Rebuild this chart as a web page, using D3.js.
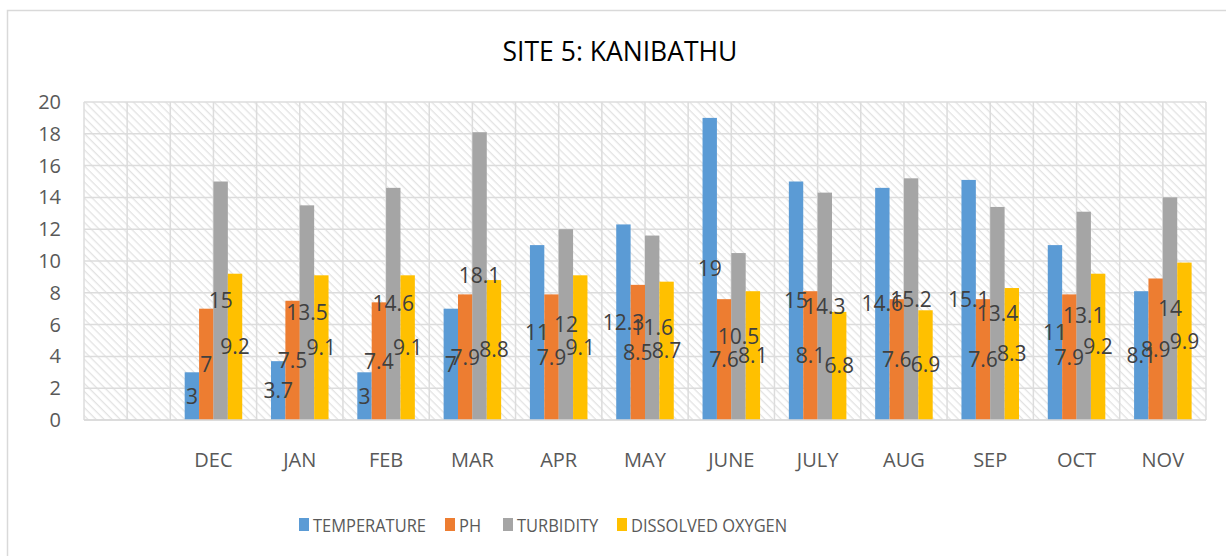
<!DOCTYPE html>
<html>
<head>
<meta charset="utf-8">
<script src="https://cdn.jsdelivr.net/npm/d3@7"></script>
<style>
  html, body { margin: 0; padding: 0; background: #fff; }
  svg { display: block; font-family: 'Open Sans', 'Liberation Sans', sans-serif; }
</style>
</head>
<body>
<div id="chart"></div>
<script>
// chart data
const months = ['DEC', 'JAN', 'FEB', 'MAR', 'APR', 'MAY', 'JUNE', 'JULY', 'AUG', 'SEP', 'OCT', 'NOV'];
const seriesNames = ['TEMPERATURE', 'PH', 'TURBIDITY', 'DISSOLVED OXYGEN'];
const temperature = [3, 3.7, 3, 7, 11, 12.3, 19, 15, 14.6, 15.1, 11, 8.1];
const ph = [7, 7.5, 7.4, 7.9, 7.9, 8.5, 7.6, 8.1, 7.6, 7.6, 7.9, 8.9];
const turbidity = [15, 13.5, 14.6, 18.1, 12, 11.6, 10.5, 14.3, 15.2, 13.4, 13.1, 14];
const dissolvedOxygen = [9.2, 9.1, 9.1, 8.8, 9.1, 8.7, 8.1, 6.8, 6.9, 8.3, 9.2, 9.9];
const yTicks = [0, 2, 4, 6, 8, 10, 12, 14, 16, 18, 20];

const W = 1226;
const H = 556;
const colors = ['#5B9BD5', '#ED7D31', '#A5A5A5', '#FFC000'];
const plot = { left: 84, right: 1206, top: 102, bottom: 420 };

// the reference has an empty slot before DEC
const categories = [''].concat(months);
const seriesValues = [temperature, ph, turbidity, dissolvedOxygen];

const rows = [];
months.forEach((m, i) => {
  seriesNames.forEach((s, j) => {
    rows.push({ month: m, series: s, value: seriesValues[j][i], color: colors[j] });
  });
});

const svg = d3.select('#chart')
  .append('svg')
  .attr('width', W)
  .attr('height', H);

svg.append('rect')
  .attr('width', W).attr('height', H)
  .attr('fill', '#fff');

// chart frame (only left/top visible in the crop)
svg.append('rect')
  .attr('x', 7.5).attr('y', 10.5)
  .attr('width', W + 20).attr('height', H + 20)
  .attr('fill', 'none')
  .attr('stroke', '#d9d9d9')
  .attr('stroke-width', 1.5);

// hatched plot background
const defs = svg.append('defs');
const pat = defs.append('pattern')
  .attr('id', 'hatch')
  .attr('patternUnits', 'userSpaceOnUse')
  .attr('width', 5.7).attr('height', 5.7)
  .attr('patternTransform', 'rotate(45)');
pat.append('rect').attr('width', 5.7).attr('height', 5.7).attr('fill', '#fff');
pat.append('line')
  .attr('x1', 0).attr('y1', 0).attr('x2', 5.7).attr('y2', 0)
  .attr('stroke', '#e3e3e3')
  .attr('stroke-width', 2.6);

svg.append('rect')
  .attr('x', plot.left).attr('y', plot.top)
  .attr('width', plot.right - plot.left)
  .attr('height', plot.bottom - plot.top)
  .attr('fill', 'url(#hatch)');

const x = d3.scaleBand()
  .domain(categories)
  .range([plot.left, plot.right])
  .padding(0);

const xInner = d3.scaleBand()
  .domain(seriesNames)
  .range([0, x.bandwidth()])
  .paddingInner(0)
  .paddingOuter(1);

const y = d3.scaleLinear()
  .domain([0, 20])
  .range([plot.bottom, plot.top]);

// gridlines
const grid = svg.append('g').attr('stroke', '#dcdcdc').attr('stroke-width', 1.5);
const vLines = [];
categories.forEach(c => {
  vLines.push(x(c));
  vLines.push(x(c) + x.bandwidth() / 2);
});
vLines.push(plot.right);
grid.selectAll('line.v')
  .data(vLines)
  .enter()
  .append('line')
  .attr('class', 'v')
  .attr('x1', d => d).attr('x2', d => d)
  .attr('y1', plot.top).attr('y2', plot.bottom);
grid.selectAll('line.h')
  .data(yTicks)
  .enter()
  .append('line')
  .attr('class', 'h')
  .attr('x1', plot.left).attr('x2', plot.right)
  .attr('y1', d => y(d)).attr('y2', d => y(d));

// y tick labels
svg.append('g')
  .selectAll('text')
  .data(yTicks)
  .enter()
  .append('text')
  .attr('x', 61)
  .attr('y', d => y(d))
  .attr('dy', '0.35em')
  .attr('text-anchor', 'end')
  .attr('fill', '#595959')
  .style('font-size', '20px')
  .text(d => d);

// x labels
svg.append('g')
  .selectAll('text')
  .data(months)
  .enter()
  .append('text')
  .attr('x', d => x(d) + x.bandwidth() / 2)
  .attr('y', 467)
  .attr('text-anchor', 'middle')
  .attr('fill', '#595959')
  .style('font-size', '20px')
  .text(d => d);

// bars
svg.append('g')
  .selectAll('rect')
  .data(rows)
  .enter()
  .append('rect')
  .attr('x', d => x(d.month) + xInner(d.series))
  .attr('y', d => y(d.value))
  .attr('width', xInner.bandwidth())
  .attr('height', d => plot.bottom - y(d.value))
  .attr('fill', d => d.color);

// axis line
svg.append('line')
  .attr('x1', plot.left).attr('x2', plot.right)
  .attr('y1', plot.bottom).attr('y2', plot.bottom)
  .attr('stroke', '#d9d9d9')
  .attr('stroke-width', 1.5);

// data labels, centred in each bar
svg.append('g')
  .selectAll('text')
  .data(rows)
  .enter()
  .append('text')
  .attr('x', d => x(d.month) + xInner(d.series) + xInner.bandwidth() / 2)
  .attr('y', d => (y(d.value) + plot.bottom) / 2)
  .attr('dy', '0.35em')
  .attr('text-anchor', 'middle')
  .attr('fill', '#404040')
  .style('font-size', '21px')
  .text(d => d.value);

// title
svg.append('text')
  .attr('x', 620)
  .attr('y', 61)
  .attr('text-anchor', 'middle')
  .attr('fill', '#000')
  .style('font-size', '26.5px')
  .text('SITE 5: KANIBATHU');

// legend (text squeezed a little to mimic the narrow original font)
const legendX = [299, 445, 503, 617];
const legend = svg.append('g')
  .selectAll('g')
  .data(seriesNames)
  .enter()
  .append('g')
  .attr('transform', (d, i) => `translate(${legendX[i]},0)`);
legend.append('rect')
  .attr('x', 0).attr('y', 518)
  .attr('width', 10).attr('height', 13)
  .attr('fill', (d, i) => colors[i]);
legend.append('text')
  .attr('transform', 'translate(14,532) scale(0.89,1)')
  .attr('fill', '#595959')
  .style('font-size', '18.5px')
  .text(d => d);
</script>
</body>
</html>
